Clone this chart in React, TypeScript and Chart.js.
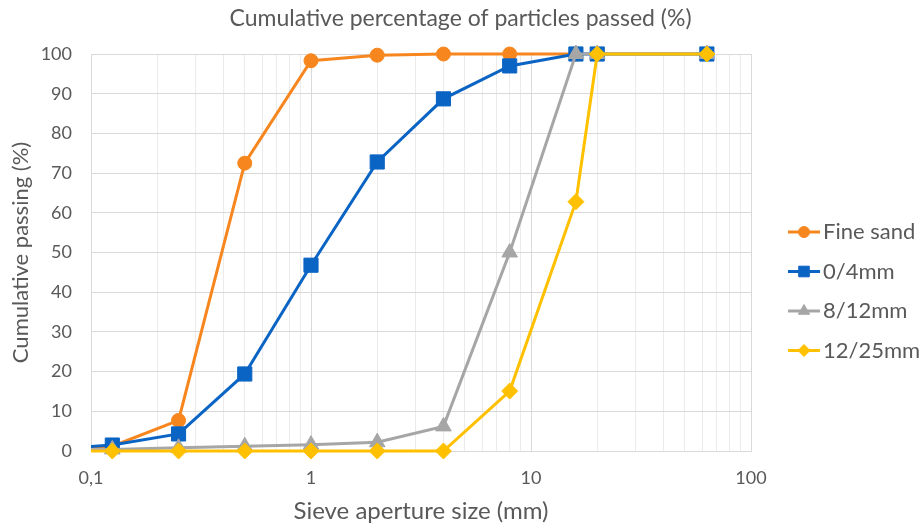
import React, { useEffect, useRef } from 'react';
import { Chart, registerables } from 'chart.js';
import { drawPoint } from 'chart.js/helpers';

Chart.register(...registerables);

const chartTitle = 'Cumulative percentage of particles passed (%)';
const xTitle = 'Sieve aperture size (mm)';
const yTitle = 'Cumulative passing (%)';

const sieveSizes = [0.063, 0.125, 0.25, 0.5, 1, 2, 4, 8, 16, 20, 63];
const seriesNames = ['Fine sand', '0/4mm', '8/12mm', '12/25mm'];
const fineSand = [0.6, 1.2, 7.7, 72.5, 98.3, 99.7, 100, 100, 100];
const sand0_4 = [0.4, 1.5, 4.3, 19.4, 46.8, 72.8, 88.7, 97, 100, 100, 100];
const gravel8_12 = [0.2, 0.4, 0.8, 1.2, 1.6, 2.2, 6.2, 50, 100, 100, 100];
const gravel12_25 = [0, 0, 0, 0, 0, 0, 0, 15.1, 62.8, 100, 100];
const seriesValues = [fineSand, sand0_4, gravel8_12, gravel12_25];

const colors = ['#F7861E', '#0A64C4', '#A6A6A6', '#FFC000'];
const pointStyles = ['circle', 'rect', 'triangle', 'rectRot'];
const pointRadii = [7, 10, 9, 8];
const legendRadii = [5.5, 7.5, 6.5, 6];

const xDecades = [0.1, 1, 10];
const xMax = 100;
const xMajorLabels: Record<string, string> = { '0.1': '0,1', '1': '1', '10': '10', '100': '100' };

const textColor = '#595959';
const fontFamily = 'Lato, "Open Sans", sans-serif';

const isMajor = (v: number) => Math.abs(Math.log10(v) - Math.round(Math.log10(v))) < 1e-6;

const overlayPlugin = {
  id: 'overlay',
  afterDraw(chart: any) {
    const ctx = chart.ctx as CanvasRenderingContext2D;
    ctx.save();
    ctx.fillStyle = textColor;
    ctx.font = `23px ${fontFamily}`;
    ctx.textAlign = 'center';
    ctx.textBaseline = 'middle';
    ctx.fillText(chartTitle, chart.width / 2, 19);

    const lx0 = 788;
    const lx1 = 820;
    const ly0 = 232;
    const lstep = 39.5;
    chart.data.datasets.forEach((ds: any, i: number) => {
      const y = ly0 + i * lstep;
      ctx.strokeStyle = ds.borderColor;
      ctx.lineWidth = 3;
      ctx.beginPath();
      ctx.moveTo(lx0, y);
      ctx.lineTo(lx1, y);
      ctx.stroke();
      ctx.fillStyle = ds.borderColor;
      ctx.strokeStyle = ds.borderColor;
      ctx.lineWidth = 1;
      drawPoint(ctx, { pointStyle: ds.pointStyle, radius: legendRadii[i], borderWidth: 1, rotation: 0 } as any, (lx0 + lx1) / 2, y);
      ctx.fillStyle = textColor;
      ctx.font = `22px ${fontFamily}`;
      ctx.textAlign = 'left';
      ctx.textBaseline = 'middle';
      ctx.fillText(ds.label, lx1 + 3, y);
    });
    ctx.restore();
  },
};

export default function App() {
  const canvasRef = useRef<HTMLCanvasElement | null>(null);

  useEffect(() => {
    document.body.style.margin = '0';
    const canvas = canvasRef.current;
    if (!canvas) return;

    const datasets = seriesNames.map((name, i) => ({
      label: name,
      data: seriesValues[i].map((v, j) => ({ x: sieveSizes[j], y: v })),
      borderColor: colors[i],
      backgroundColor: colors[i],
      pointBackgroundColor: colors[i],
      pointBorderColor: colors[i],
      pointStyle: pointStyles[i],
      pointRadius: pointRadii[i],
      pointBorderWidth: 1,
      borderWidth: 3,
      tension: 0,
      order: seriesNames.length - 1 - i,
      clip: { left: 0, top: false, right: false, bottom: false },
    }));

    const chart = new Chart(canvas, {
      type: 'line',
      data: { datasets } as any,
      options: {
        responsive: false,
        animation: false,
        layout: { padding: { left: 8, right: 170, top: 54, bottom: 1 } },
        plugins: {
          legend: { display: false },
          title: { display: false },
          tooltip: { enabled: false },
        },
        scales: {
          x: {
            type: 'logarithmic',
            min: 0.1,
            max: xMax,
            afterBuildTicks: (scale: any) => {
              const vals: number[] = [];
              xDecades.forEach((d) => {
                for (let k = 1; k <= 9; k++) vals.push(+(d * k).toPrecision(6));
              });
              vals.push(xMax);
              scale.ticks = vals.map((v) => ({ value: v, major: isMajor(v) }));
            },
            afterFit: (scale: any) => {
              scale.height = 72;
            },
            ticks: {
              autoSkip: false,
              maxRotation: 0,
              color: textColor,
              font: { family: fontFamily, size: 18 },
              padding: 16,
              callback: (v: any) => {
                const n = Number(v);
                return isMajor(n) ? xMajorLabels[String(n)] ?? String(n) : '';
              },
            },
            grid: {
              color: (c: any) => (c.tick && isMajor(c.tick.value) ? '#D9D9D9' : '#EBEBEB'),
              lineWidth: 1,
              drawTicks: false,
            },
            border: { color: '#D9D9D9' },
            title: {
              display: true,
              text: xTitle,
              color: textColor,
              font: { family: fontFamily, size: 24, lineHeight: 1 },
              padding: { top: 0, bottom: 0 },
            },
          },
          y: {
            min: 0,
            max: 100,
            afterFit: (scale: any) => {
              scale.width = 83;
            },
            ticks: {
              stepSize: 10,
              color: textColor,
              font: { family: fontFamily, size: 18 },
              padding: 19,
            },
            grid: { color: '#D9D9D9', lineWidth: 1, drawTicks: false },
            border: { display: false },
            title: {
              display: true,
              text: yTitle,
              color: textColor,
              font: { family: fontFamily, size: 22 },
              padding: { top: 0, bottom: 0 },
            },
          },
        },
      },
      plugins: [overlayPlugin],
    } as any);

    return () => chart.destroy();
  }, []);

  return (
    <div style={{ width: 921, height: 524 }}>
      <canvas ref={canvasRef} width={921} height={524} style={{ display: 'block' }} />
    </div>
  );
}
